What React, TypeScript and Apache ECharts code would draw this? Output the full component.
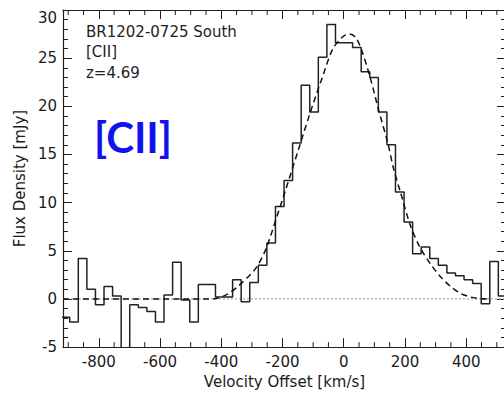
import React, { useEffect, useRef } from "react";
import * as echarts from "echarts";

// Spectrum channels (centre velocity, km/s) and flux density (mJy)
const velocityCenters = [
  -909, -881, -853, -825, -797, -769, -741, -713, -685, -657, -629, -601, -573,
  -545, -517, -489, -461, -433, -405, -377, -349, -321, -293, -265, -237, -209,
  -181, -153, -125, -97, -69, -41, -13, 15, 43, 71, 99, 127, 155, 183, 211, 239,
  267, 295, 323, 351, 379, 407, 435, 463, 491, 519,
];
const fluxDensity = [
  -1.9, -2.4, 4.2, 1.0, -0.6, 1.3, 0.3, -5.6, -0.6, -0.9, -1.3, -2.4, 0.4,
  3.8, -0.1, -2.4, 1.5, 1.5, 0.2, 0.2, 2.0, -0.3, 1.7, 3.5, 5.8, 9.6,
  12.3, 16.2, 22.2, 19.4, 25.1, 28.5, 26.6, 26.6, 26.1, 23.6, 23.0, 19.4, 16.0, 11.1, 8.0, 4.7,
  5.4, 4.2, 3.5, 2.7, 2.4, 2.0, 1.6, -0.5, 3.9, 0.3,
];
const channelWidth = 28;

// Fitted profile (dashed)
const fitVelocity = [
  -917, -450, -417, -380, -342, -287, -254, -222, -190, -150, -110, -70, -35, 0,
  20, 40, 60, 88, 114, 143, 163, 186, 218, 250, 284, 316, 349, 380, 414, 450, 470,
];
const fitFlux = [
  0, 0, 0.05, 0.5, 1.4, 3.2, 5.2, 8.2, 11.3, 15.3, 19.3, 23.0, 26.0, 27.3,
  27.5, 27.1, 25.7, 22.8, 19.6, 16.3, 13.5, 11.0, 7.6, 5.3, 3.6, 2.3, 1.3, 0.6, 0.2, 0.02, 0,
];

const xTickValues = [-800, -600, -400, -200, 0, 200, 400];
const xMinorTickValues = [
  -900, -850, -750, -700, -650, -550, -500, -450, -350, -300, -250, -150, -100,
  -50, 50, 100, 150, 250, 300, 350, 450, 500,
];
const X_MIN = -917;
const X_MAX = 530;
const Y_MIN = -5;
const Y_MAX = 30;
const Y_INTERVAL = 5;

const annotationLines = ["BR1202-0725 South", "[CII]", "z=4.69"];
const overlayLabel = "[CII]";
const xTitle = "Velocity Offset [km/s]";
const yTitle = "Flux Density [mJy]";

const FONT = "'DejaVu Sans', sans-serif";
const INK = "#1e1e1e";

export default function App() {
  const ref = useRef<HTMLDivElement>(null);

  useEffect(() => {
    if (!ref.current) return;
    const chart = echarts.init(ref.current, null, { renderer: "svg" });

    const histData: number[][] = velocityCenters.map((v, i) => [
      v - channelWidth / 2,
      fluxDensity[i],
    ]);
    const last = velocityCenters.length - 1;
    histData.push([velocityCenters[last] + channelWidth / 2, fluxDensity[last]]);

    const fitData = fitVelocity.map((v, i) => [v, fitFlux[i]]);

    const frameLine = { show: true, onZero: false, lineStyle: { color: INK, width: 1.2 } };
    const tickLine = { color: INK, width: 1 };
    const labelStyle = { fontFamily: FONT, fontSize: 15, color: "#1a1a1a" };

    const option: any = {
      animation: false,
      backgroundColor: "#ffffff",
      grid: { left: 63, right: 2, top: 10, bottom: 46, containLabel: false },
      xAxis: [
        {
          type: "value",
          position: "bottom",
          min: X_MIN,
          max: X_MAX,
          axisLine: frameLine,
          axisTick: { show: true, inside: true, length: 9, customValues: xTickValues, lineStyle: tickLine },
          axisLabel: { ...labelStyle, margin: 7, customValues: xTickValues },
          splitLine: { show: false },
          name: xTitle,
          nameLocation: "middle",
          nameGap: 26,
          nameTextStyle: { fontFamily: FONT, fontSize: 15, color: "#1a1a1a" },
        },
        {
          type: "value",
          position: "top",
          min: X_MIN,
          max: X_MAX,
          axisLine: frameLine,
          axisTick: { show: true, inside: true, length: 9, customValues: xTickValues, lineStyle: tickLine },
          axisLabel: { show: false },
          splitLine: { show: false },
        },
      ],
      yAxis: [
        {
          type: "value",
          position: "left",
          min: Y_MIN,
          max: Y_MAX,
          interval: Y_INTERVAL,
          axisLine: frameLine,
          axisTick: { show: true, inside: true, length: 9, lineStyle: tickLine },
          minorTick: { show: true, splitNumber: 5, length: 5, lineStyle: tickLine },
          axisLabel: { ...labelStyle, margin: 6, verticalAlignMaxLabel: "top" },
          splitLine: { show: false },
          minorSplitLine: { show: false },
          name: yTitle,
          nameLocation: "middle",
          nameGap: 35,
          nameTextStyle: { fontFamily: FONT, fontSize: 15, color: "#1a1a1a" },
        },
        {
          type: "value",
          position: "right",
          min: Y_MIN,
          max: Y_MAX,
          interval: Y_INTERVAL,
          axisLine: frameLine,
          axisTick: { show: true, inside: true, length: 9, lineStyle: tickLine },
          minorTick: { show: true, splitNumber: 5, length: 5, lineStyle: tickLine },
          axisLabel: { show: false },
          splitLine: { show: false },
          minorSplitLine: { show: false },
        },
      ],
      series: [
        {
          type: "line",
          data: [
            [X_MIN, 0],
            [X_MAX, 0],
          ],
          symbol: "none",
          silent: true,
          lineStyle: { color: "#a9a9a9", width: 1.3, type: [2, 2] },
          z: 1,
        },
        {
          type: "line",
          data: histData,
          step: "end",
          symbol: "none",
          clip: true,
          lineStyle: { color: "#222222", width: 1.5 },
          z: 2,
        },
        {
          type: "line",
          data: fitData,
          smooth: 0.3,
          symbol: "none",
          clip: true,
          lineStyle: { color: "#111111", width: 1.5, type: [6, 4] },
          z: 3,
        },
        {
          type: "custom",
          data: xMinorTickValues.map((v) => [v, 0]),
          silent: true,
          clip: false,
          z: 4,
          renderItem: (_params: any, api: any) => {
            const v = api.value(0);
            const b = api.coord([v, Y_MIN]);
            const t = api.coord([v, Y_MAX]);
            return {
              type: "group",
              children: [
                { type: "line", shape: { x1: b[0], y1: b[1], x2: b[0], y2: b[1] - 5 }, style: { stroke: INK, lineWidth: 1 } },
                { type: "line", shape: { x1: t[0], y1: t[1], x2: t[0], y2: t[1] + 5 }, style: { stroke: INK, lineWidth: 1 } },
              ],
            };
          },
        },
      ],
      graphic: [
        ...annotationLines.map((line, i) => ({
          type: "text",
          left: 86,
          top: 24 + i * 20.5,
          style: { text: line, fontFamily: FONT, fontSize: 15, fill: "#1e1e1e" },
        })),
        {
          type: "text",
          x: 133,
          y: 137,
          style: {
            text: overlayLabel,
            fontFamily: "Lato, 'DejaVu Sans', sans-serif",
            fontWeight: "bold",
            fontSize: 42,
            fill: "#1212ee",
            align: "center",
            verticalAlign: "middle",
          },
        },
      ],
    };

    chart.setOption(option);
    return () => chart.dispose();
  }, []);

  return (
    <div
      ref={ref}
      style={{ position: "fixed", left: 0, top: 0, width: 508, height: 394, background: "#fff" }}
    />
  );
}
